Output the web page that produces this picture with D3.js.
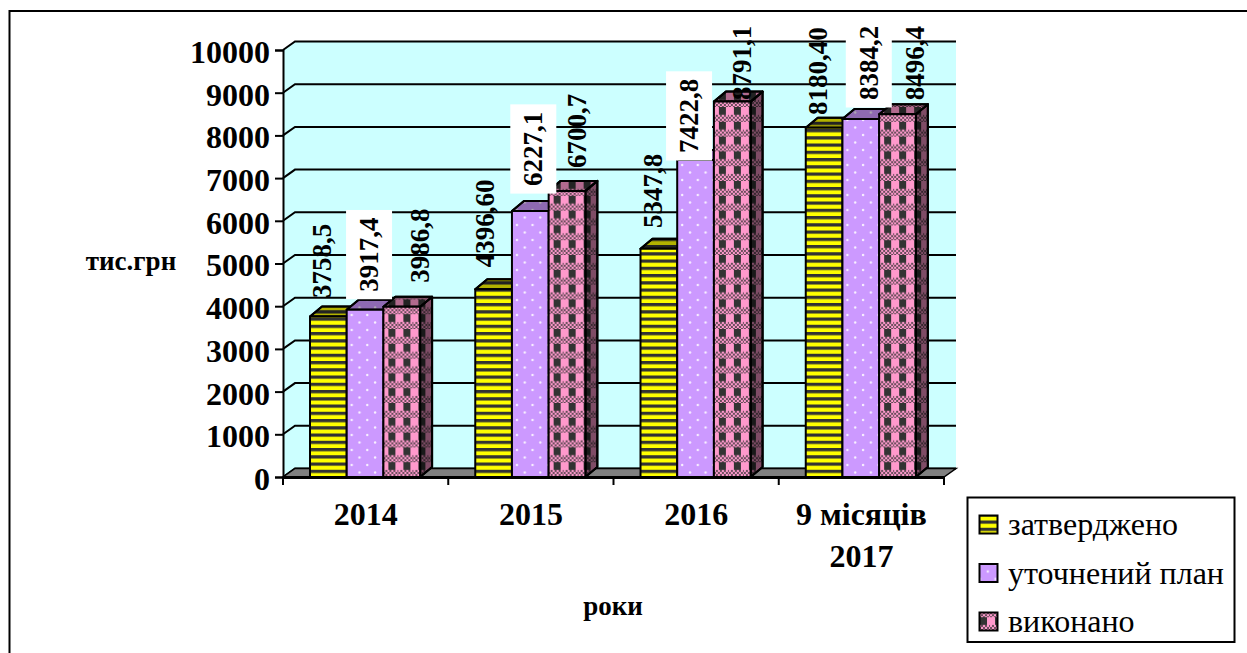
<!DOCTYPE html>
<html>
<head>
<meta charset="utf-8">
<script src="https://cdn.jsdelivr.net/npm/d3@7"></script>
<style>
  html, body { margin: 0; padding: 0; background: #fff; }
  svg { display: block; }
  text { font-family: "Liberation Serif", serif; fill: #000; }
</style>
</head>
<body>
<div id="chart"></div>
<script>
const categories = ["2014", "2015", "2016", "9 місяців 2017"];
const seriesNames = ["затверджено", "уточнений план", "виконано"];
const approved = [3758.5, 4396.6, 5347.8, 8180.4];
const refined = [3917.4, 6227.1, 7422.8, 8384.2];
const done = [3986.8, 6700.7, 8791.1, 8496.4];
const approvedLabels = ["3758,5", "4396,60", "5347,8", "8180,40"];
const refinedLabels = ["3917,4", "6227,1", "7422,8", "8384,2"];
const doneLabels = ["3986,8", "6700,7", "8791,1", "8496,4"];
const yTicks = [0, 1000, 2000, 3000, 4000, 5000, 6000, 7000, 8000, 9000, 10000];

const allValues = [approved, refined, done];
const allLabels = [approvedLabels, refinedLabels, doneLabels];

// data labels were dragged by hand in the original, so each one has its own nudge
const labelDx = [[-6, -9, -6, -6], [4, 3, -6.5, 8], [18, 10, 10, 17.5]];
const labelGap = [[18.5, 22, 20.6, 12.7], [18, 25, 7, 19], [24, 23, 1.6, 14]];

const width = 1247;
const height = 653;
const plot = { left: 283, right: 944, top: 50, bottom: 477 };
const depth = { x: 12, y: 8.5 };
const barDepth = { x: 12, y: 10 };
const barWidth = 36.7;
const groupPad = 27;

const svg = d3.select("#chart").append("svg")
    .attr("width", width)
    .attr("height", height);

const defs = svg.append("defs");

// yellow / dark stripes
const stripes = defs.append("pattern")
    .attr("id", "stripes").attr("patternUnits", "userSpaceOnUse")
    .attr("width", 8).attr("height", 7.25);
stripes.append("rect").attr("width", 8).attr("height", 7.25).attr("fill", "#333333");
stripes.append("rect").attr("y", 3.25).attr("width", 8).attr("height", 4).attr("fill", "#ffff00");

// purple with small white dots
const dots = defs.append("pattern")
    .attr("id", "dots").attr("patternUnits", "userSpaceOnUse")
    .attr("width", 15.6).attr("height", 15);
dots.append("rect").attr("width", 15.6).attr("height", 15).attr("fill", "#cc99ff");
[[5, 3], [12.8, 10.5]].forEach(p => {
    dots.append("circle").attr("cx", p[0]).attr("cy", p[1]).attr("r", 1.2)
        .attr("fill", "#f8efff");
});

// pink plaid, dark blocks on top of a fine checker band
const plaid = defs.append("pattern")
    .attr("id", "plaid").attr("patternUnits", "userSpaceOnUse")
    .attr("width", 15).attr("height", 14.8);
plaid.append("rect").attr("width", 15).attr("height", 14.8).attr("fill", "#ff99cc");
plaid.append("rect").attr("x", 5).attr("y", 0).attr("width", 7).attr("height", 7.8).attr("fill", "#333333");
d3.range(0, 15, 2).forEach((x, i) => {
    d3.range(7.8, 14.8, 2).forEach((y, j) => {
        plaid.append("rect")
            .attr("x", x).attr("y", y).attr("width", 2).attr("height", 2)
            .attr("fill", (i + j) % 2 ? "#333333" : "#ff99cc")
            .attr("opacity", 0.75);
    });
});

const fills = ["url(#stripes)", "url(#dots)", "url(#plaid)"];

// outer frame, right and bottom edges run off the picture
svg.append("rect")
    .attr("x", 9.5).attr("y", 11)
    .attr("width", 1260).attr("height", 670)
    .attr("fill", "#fff").attr("stroke", "#000").attr("stroke-width", 2);

const x0 = d3.scaleBand()
    .domain(categories)
    .range([plot.left, plot.right]);

const y = d3.scaleLinear()
    .domain([0, 10000])
    .range([plot.bottom, plot.top]);

const pts = arr => arr.map(p => p.join(",")).join(" ");

// back wall + side wall
svg.append("polygon")
    .attr("points", pts([
        [plot.left, plot.top],
        [plot.left + depth.x, plot.top - depth.y],
        [plot.right + depth.x, plot.top - depth.y],
        [plot.right + depth.x, plot.bottom - depth.y],
        [plot.left, plot.bottom]
    ]))
    .attr("fill", "#ccffff");

// gridlines, they wrap from the side wall on to the back wall
svg.append("g").selectAll("polyline")
    .data(yTicks)
    .enter()
    .append("polyline")
    .attr("points", d => pts([
        [plot.left, y(d)],
        [plot.left + depth.x, y(d) - depth.y],
        [plot.right + depth.x, y(d) - depth.y]
    ]))
    .attr("fill", "none")
    .attr("stroke", "#000")
    .attr("stroke-width", 2);

// floor
svg.append("polygon")
    .attr("points", pts([
        [plot.left, plot.bottom],
        [plot.left + depth.x, plot.bottom - depth.y],
        [plot.right + depth.x, plot.bottom - depth.y],
        [plot.right, plot.bottom]
    ]))
    .attr("fill", "#808080")
    .attr("stroke", "#000")
    .attr("stroke-width", 1.5);

// bars, each group is moved to the bar corner so the pattern starts at the bar
categories.forEach((cat, c) => {
    allValues.forEach((values, s) => {
        const bx = x0(cat) + groupPad + s * barWidth;
        const top = y(values[c]) - plot.bottom;
        const g = svg.append("g")
            .attr("transform", `translate(${bx},${plot.bottom})`)
            .attr("stroke", "#000")
            .attr("stroke-width", 2)
            .attr("stroke-linejoin", "round");

        const side = [
            [barWidth, top],
            [barWidth + barDepth.x, top - barDepth.y],
            [barWidth + barDepth.x, -barDepth.y],
            [barWidth, 0]
        ];
        const cap = [
            [0, top],
            [barDepth.x, top - barDepth.y],
            [barWidth + barDepth.x, top - barDepth.y],
            [barWidth, top]
        ];
        [side, cap].forEach((face, i) => {
            g.append("polygon").attr("points", pts(face)).attr("fill", fills[s]);
            g.append("polygon").attr("points", pts(face))
                .attr("fill", "#000").attr("fill-opacity", i ? 0.3 : 0.5);
        });
        g.append("rect")
            .attr("x", 0).attr("y", top)
            .attr("width", barWidth).attr("height", -top)
            .attr("fill", fills[s]);
    });
});

// axes
const yAxis = svg.append("g")
    .attr("transform", `translate(${plot.left},0)`)
    .call(d3.axisLeft(y).tickValues(yTicks).tickSize(8).tickPadding(5).tickFormat(d3.format("d")));
yAxis.selectAll("line").attr("stroke", "#000").attr("stroke-width", 2);
yAxis.select(".domain").attr("stroke", "#000").attr("stroke-width", 2);
yAxis.selectAll("text")
    .attr("dy", "0.39em")
    .style("font-family", '"Liberation Serif", serif')
    .style("font-size", "32px")
    .style("font-weight", "bold");

const xAxis = svg.append("g")
    .attr("transform", `translate(0,${plot.bottom})`)
    .call(d3.axisBottom(x0).tickSize(0).tickFormat(""));
xAxis.select(".domain").attr("stroke", "#000").attr("stroke-width", 3);
xAxis.selectAll(".tick").remove();

// tick marks sit between the categories
svg.append("g").selectAll("line")
    .data(d3.range(categories.length + 1))
    .enter()
    .append("line")
    .attr("x1", i => plot.left + i * x0.step())
    .attr("x2", i => plot.left + i * x0.step())
    .attr("y1", plot.bottom)
    .attr("y2", plot.bottom + 8)
    .attr("stroke", "#000")
    .attr("stroke-width", 2);

// category labels, the last one wraps on two lines
const catText = svg.append("g").selectAll("text")
    .data(categories)
    .enter()
    .append("text")
    .attr("text-anchor", "middle")
    .style("font-size", "32px")
    .style("font-weight", "bold");
catText.each(function (d) {
    const cx = x0(d) + x0.bandwidth() / 2;
    const t = d3.select(this);
    if (d.includes(" 2017")) {
        t.append("tspan").attr("x", cx).attr("y", 525).text(d.replace(" 2017", ""));
        t.append("tspan").attr("x", cx).attr("y", 567).text("2017");
    } else {
        t.append("tspan").attr("x", cx).attr("y", 525).text(d);
    }
});

// axis titles
svg.append("text")
    .attr("x", 131).attr("y", 270)
    .attr("text-anchor", "middle")
    .style("font-size", "27px")
    .style("font-weight", "bold")
    .text("тис.грн");

svg.append("text")
    .attr("x", 613).attr("y", 615)
    .attr("text-anchor", "middle")
    .style("font-size", "27px")
    .style("font-weight", "bold")
    .text("роки");

// data labels
categories.forEach((cat, c) => {
    allLabels.forEach((labels, s) => {
        const cx = x0(cat) + groupPad + (s + 0.5) * barWidth + labelDx[s][c];
        const textEnd = y(allValues[s][c]) - labelGap[s][c];
        const g = svg.append("g")
            .attr("transform", `translate(${cx},${textEnd}) rotate(-90)`);
        const t = g.append("text")
            .attr("x", 0)
            .attr("y", 0)
            .attr("dy", "0.33em")
            .style("font-size", "27px")
            .style("font-weight", "bold")
            .text(labels[c]);
        // the middle series has a white label box in the original
        if (s === 1) {
            const len = t.node().getComputedTextLength();
            g.insert("rect", "text")
                .attr("x", -7.5)
                .attr("y", -23)
                .attr("width", len + 15)
                .attr("height", 46)
                .attr("fill", "#fff");
        }
    });
});

// legend
const legend = svg.append("g");
legend.append("rect")
    .attr("x", 967.5).attr("y", 497.5)
    .attr("width", 267).attr("height", 144.5)
    .attr("fill", "#fff")
    .attr("stroke", "#000")
    .attr("stroke-width", 2);

const legendY = d3.scalePoint()
    .domain(seriesNames)
    .range([535, 632]);

const legendRow = legend.selectAll("g.row")
    .data(seriesNames)
    .enter()
    .append("g")
    .attr("class", "row")
    .attr("transform", d => `translate(0,${legendY(d)})`);

legendRow.append("rect")
    .attr("x", 979.5).attr("y", -19.5)
    .attr("width", 18).attr("height", 18)
    .attr("fill", (d, i) => fills[i])
    .attr("stroke", "#000")
    .attr("stroke-width", 2);

legendRow.append("text")
    .attr("x", 1008)
    .style("font-size", "32px")
    .text(d => d);
</script>
</body>
</html>
